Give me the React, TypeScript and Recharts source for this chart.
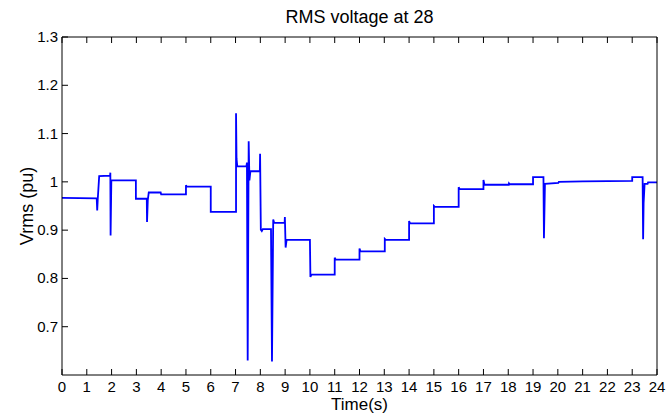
import { Label, Line, LineChart, XAxis, YAxis } from "recharts";

// sample times (s) and RMS voltage (pu); repeated times are the step edges
const times = [
  0, 1.4, 1.42, 1.44, 1.5, 1.94, 1.95, 1.96, 1.99, 2.98, 2.98, 3.42, 3.43, 3.46, 3.5,
  3.98, 4.0, 5.0, 5.0, 5.03, 6.0, 6.0, 7.02, 7.02, 7.04, 7.07, 7.44, 7.46, 7.49, 7.53,
  7.56, 7.6, 7.98, 7.99, 8.02, 8.06, 8.1, 8.43, 8.47, 8.52, 8.56, 8.98, 8.99, 9.02, 9.06,
  10.0, 10.02, 10.06, 11.0, 11.0, 11.04, 12.0, 12.0, 12.04, 13.02, 13.02, 13.06, 14.0, 14.0, 14.04,
  15.0, 15.0, 15.04, 16.0, 16.0, 16.04, 17.0, 17.0, 17.04, 18.02, 18.03, 18.06, 19.0, 19.0, 19.42,
  19.44, 19.48, 20.02, 20.04, 21.0, 23.0, 23.0, 23.42, 23.44, 23.46, 23.5, 23.62, 23.64, 24.0,
];
const vrms = [
  0.967, 0.966, 0.941, 0.962, 1.012, 1.013, 1.019, 0.889, 1.003, 1.003, 0.965, 0.965, 0.917, 0.962, 0.978,
  0.978, 0.974, 0.974, 0.993, 0.99, 0.99, 0.938, 0.938, 1.142, 1.048, 1.032, 1.032, 1.04, 0.63, 1.084,
  1.003, 1.022, 1.022, 1.058, 0.901, 0.898, 0.902, 0.902, 0.628, 0.922, 0.915, 0.915, 0.927, 0.864, 0.88,
  0.88, 0.803, 0.808, 0.808, 0.843, 0.839, 0.839, 0.862, 0.856, 0.856, 0.882, 0.88, 0.88, 0.919, 0.914,
  0.914, 0.95, 0.948, 0.948, 0.989, 0.985, 0.985, 1.004, 0.994, 0.994, 0.997, 0.995, 0.995, 1.01, 1.01,
  0.883, 0.996, 0.998, 1.0, 1.001, 1.002, 1.01, 1.01, 0.881, 0.956, 0.996, 0.996, 0.999, 0.999,
];

const xTicks = [0, 1, 2, 3, 4, 5, 6, 7, 8, 9, 10, 11, 12, 13, 14, 15, 16, 17, 18, 19, 20, 21, 22, 23, 24];
const yTicks = [0.7, 0.8, 0.9, 1, 1.1, 1.2, 1.3];

const data = times.map((t, i) => ({ t, v: vrms[i] }));

const font = "'Liberation Sans', Arial, Helvetica, sans-serif";
const TICK = 6;

function BottomTick({ x, y, payload }: any) {
  return (
    <g>
      <line x1={x} y1={y} x2={x} y2={y - TICK} stroke="#000" />
      <text x={x} y={y + 17} textAnchor="middle" fontSize={15} fontFamily={font} fill="#000">
        {payload.value}
      </text>
    </g>
  );
}

function TopTick({ x, y }: any) {
  return <line x1={x} y1={y} x2={x} y2={y + TICK} stroke="#000" />;
}

function LeftTick({ x, y, payload }: any) {
  return (
    <g>
      <line x1={x} y1={y} x2={x + TICK} y2={y} stroke="#000" />
      <text x={x - 4} y={y + 5} textAnchor="end" fontSize={15} fontFamily={font} fill="#000">
        {payload.value}
      </text>
    </g>
  );
}

function RightTick({ x, y }: any) {
  return <line x1={x} y1={y} x2={x - TICK} y2={y} stroke="#000" />;
}

export default function App() {
  return (
    <div style={{ position: "absolute", left: 0, top: 0, background: "#fff" }}>
      <LineChart width={668} height={419} data={data} margin={{ top: 36, right: 10, bottom: 0, left: 0 }}>
        <XAxis
          xAxisId="b"
          dataKey="t"
          type="number"
          domain={[0, 24]}
          ticks={xTicks}
          interval={0}
          height={44}
          tickSize={0}
          tickMargin={0}
          tick={<BottomTick />}
          axisLine={{ stroke: "#000" }}
        >
          <Label
            content={() => (
              <text x={359.5} y={410} textAnchor="middle" fontSize={17} fontFamily={font} fill="#000">
                Time(s)
              </text>
            )}
          />
        </XAxis>
        <XAxis
          xAxisId="t"
          dataKey="t"
          type="number"
          orientation="top"
          domain={[0, 24]}
          ticks={xTicks}
          interval={0}
          height={1}
          tickSize={0}
          tickMargin={0}
          tick={<TopTick />}
          axisLine={{ stroke: "#000" }}
        >
          <Label
            content={() => (
              <text x={359.5} y={23} textAnchor="middle" fontSize={18} fontFamily={font} fill="#000">
                RMS voltage at 28
              </text>
            )}
          />
        </XAxis>
        <YAxis
          yAxisId="l"
          type="number"
          domain={[0.6, 1.3]}
          ticks={yTicks}
          interval={0}
          width={62}
          tickSize={0}
          tickMargin={0}
          tick={<LeftTick />}
          axisLine={{ stroke: "#000" }}
        >
          <Label
            content={() => (
              <text
                transform="translate(33,206) rotate(-90)"
                textAnchor="middle"
                fontSize={18}
                fontFamily={font}
                fill="#000"
              >
                Vrms (pu)
              </text>
            )}
          />
        </YAxis>
        <YAxis
          yAxisId="r"
          type="number"
          orientation="right"
          domain={[0.6, 1.3]}
          ticks={yTicks}
          interval={0}
          width={1}
          tickSize={0}
          tickMargin={0}
          tick={<RightTick />}
          axisLine={{ stroke: "#000" }}
        />
        <Line
          xAxisId="b"
          yAxisId="l"
          type="linear"
          dataKey="v"
          stroke="#0000ff"
          strokeWidth={1.8}
          dot={false}
          isAnimationActive={false}
        />
      </LineChart>
    </div>
  );
}
